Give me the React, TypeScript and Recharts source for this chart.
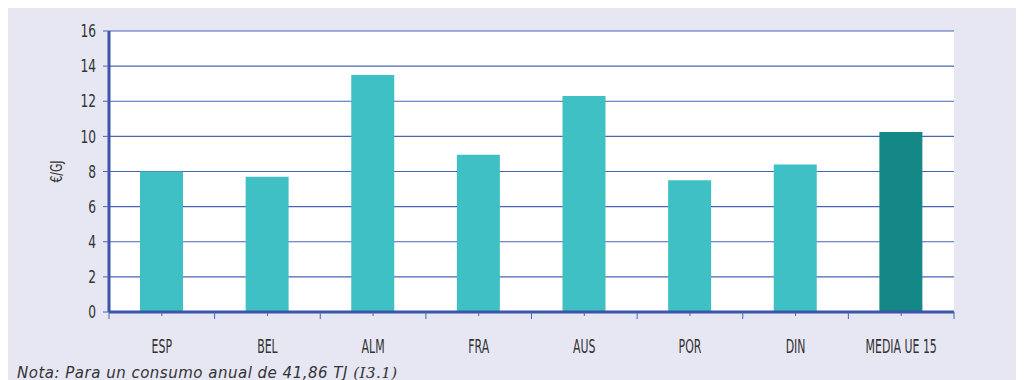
import React from 'react';
import { Bar, BarChart, CartesianGrid, Cell, XAxis, YAxis } from 'recharts';

// Precio del gas natural (€/GJ) por país, consumo anual de 41,86 TJ
const countries = ['ESP', 'BEL', 'ALM', 'FRA', 'AUS', 'POR', 'DIN', 'MEDIA UE 15'];
const prices = [8.0, 7.7, 13.5, 8.95, 12.3, 7.5, 8.4, 10.25];
const yTicks = [0, 2, 4, 6, 8, 10, 12, 14, 16];

const BAR = '#3fc0c5';
const BAR_AVG = '#148787';
const BLUE = '#4a64b4';
const AXIS = '#3b55a8';
const FONT = "'DejaVu Sans Condensed', 'DejaVu Sans', sans-serif";

const data = countries.map((c, i) => ({ name: c, value: prices[i] }));

// tick del eje X: marca corta en el centro, marca larga en el límite izquierdo
// (y derecho en la última categoría) y la etiqueta condensada debajo
function XTick(props: any) {
  const { x, y, payload, index, visibleTicksCount } = props;
  const half = payload?.offset ?? 0;
  const last = index === visibleTicksCount - 1;
  return (
    <g>
      <line x1={x} y1={y} x2={x} y2={y + 4} stroke={BLUE} strokeWidth={1} />
      <line x1={x - half} y1={y} x2={x - half} y2={y + 7} stroke={BLUE} strokeWidth={1} />
      {last ? (
        <line x1={x + half} y1={y} x2={x + half} y2={y + 7} stroke={BLUE} strokeWidth={1} />
      ) : null}
      <text
        transform={`translate(${x},${y + 41}) scale(0.64,1)`}
        textAnchor="middle"
        fill="#333"
        fontSize={19}
        fontFamily={FONT}
      >
        {payload.value}
      </text>
    </g>
  );
}

function YTick(props: any) {
  const { x, y, payload } = props;
  return (
    <text
      transform={`translate(${x},${y}) scale(0.8,1)`}
      textAnchor="end"
      dy="0.36em"
      fill="#333"
      fontSize={17}
      fontFamily={FONT}
    >
      {payload.value}
    </text>
  );
}

function YLabel(props: any) {
  const { viewBox } = props;
  const cx = viewBox.x + 13;
  const cy = viewBox.y + viewBox.height / 2;
  return (
    <text
      transform={`translate(${cx},${cy}) rotate(-90) scale(0.8,1)`}
      textAnchor="middle"
      fill="#333"
      fontSize={15}
      fontFamily={FONT}
    >
      €/GJ
    </text>
  );
}

export default function App() {
  return (
    <div style={{ position: 'relative', width: 1016, height: 372, background: '#e7e7f3' }}>
      <BarChart
        width={1016}
        height={372}
        data={data}
        margin={{ top: 23, right: 70, bottom: 26, left: 41 }}
        barSize={43}
      >
        <CartesianGrid vertical={false} stroke={BLUE} strokeWidth={1.2} fill="#ffffff" />
        <XAxis
          dataKey="name"
          tick={<XTick />}
          tickLine={false}
          tickSize={0}
          tickMargin={0}
          interval={0}
          height={42}
          axisLine={{ stroke: AXIS, strokeWidth: 3 }}
        />
        <XAxis xAxisId="top" dataKey="name" orientation="top" height={0} tick={false} tickLine={false} axisLine={{ stroke: AXIS, strokeWidth: 3 }} />
        <YAxis
          domain={[0, 16]}
          ticks={yTicks}
          interval={0}
          width={60}
          tickSize={6}
          tickMargin={7}
          tickLine={{ stroke: BLUE }}
          axisLine={{ stroke: AXIS, strokeWidth: 3 }}
          tick={<YTick />}
          label={<YLabel />}
        />
        <YAxis yAxisId="right" orientation="right" width={0} domain={[0, 16]} tick={false} tickLine={false} axisLine={{ stroke: AXIS, strokeWidth: 3 }} />
        <Bar dataKey="value" isAnimationActive={false}>
          {data.map((d, i) => (
            <Cell key={d.name} fill={i === data.length - 1 ? BAR_AVG : BAR} />
          ))}
        </Bar>
      </BarChart>
      <div
        style={{
          position: 'absolute',
          left: 9,
          top: 356,
          fontFamily: "'DejaVu Sans', sans-serif",
          fontStyle: 'italic',
          fontSize: 15,
          letterSpacing: 0.5,
          color: '#333',
          whiteSpace: 'nowrap',
        }}
      >
        Nota: Para un consumo anual de 41,86 TJ{' '}
        <span style={{ fontFamily: "'DejaVu Serif', serif" }}>(I3.1)</span>
      </div>
    </div>
  );
}
